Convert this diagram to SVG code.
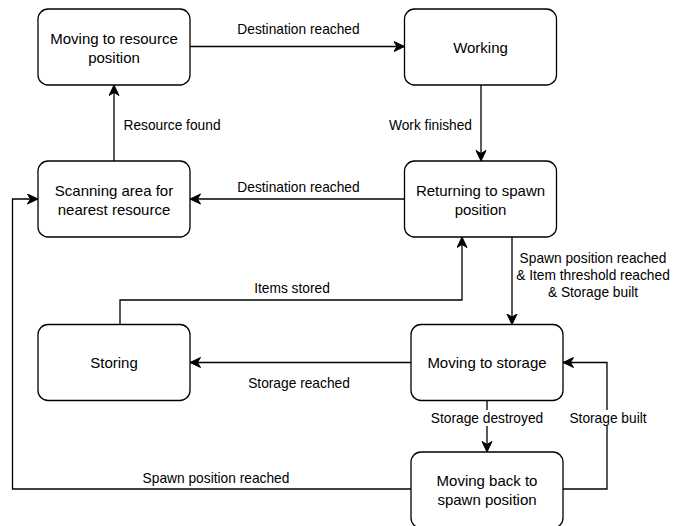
<svg xmlns="http://www.w3.org/2000/svg" width="673" height="526" viewBox="0 0 673 526">
  <style>
    .node rect { fill: #ffffff; stroke: #000000; stroke-width: 1.3; }
    .node text { font-family: "Liberation Sans", Arial, sans-serif; font-size: 15px; fill: #000000; text-anchor: middle; }
    .edge { fill: none; stroke: #000000; stroke-width: 1.3; }
    .arrow { marker-end: url(#head); }
    .label { font-family: "Liberation Sans", Arial, sans-serif; font-size: 13.75px; fill: #000000; text-anchor: middle; }
    .bg { fill: #ffffff; }
  </style>
  <defs>
    <marker id="head" markerUnits="userSpaceOnUse" markerWidth="13" markerHeight="12" refX="11" refY="5.5" orient="auto">
      <path d="M0.5,0.5 L11,5.5 L0.5,10.5 L3.5,5.5 Z" fill="#000000" stroke="#000000" stroke-width="1"/>
    </marker>
  </defs>
  <rect width="673" height="526" fill="#ffffff"/>

  <!-- transitions -->
  <g id="connectors">
    <!-- moving to resource -> working -->
    <path class="edge arrow" d="M190,46.5 L404.5,46.5"/>
    <text class="label" x="298.5" y="34">Destination reached</text>
    <!-- working -> returning -->
    <path class="edge arrow" d="M481,85 L481,161"/>
    <text class="label" x="430.5" y="130">Work finished</text>
    <!-- returning -> scanning -->
    <path class="edge arrow" d="M404.5,199 L190,199"/>
    <text class="label" x="298.5" y="192">Destination reached</text>
    <!-- scanning -> moving to resource -->
    <path class="edge arrow" d="M114,161 L114,85"/>
    <text class="label" x="172" y="130">Resource found</text>
    <!-- returning -> moving to storage -->
    <path class="edge arrow" d="M512,237 L512,324.5"/>
    <text class="label" x="593" y="263">Spawn position reached</text>
    <text class="label" x="593" y="280">&amp; Item threshold reached</text>
    <text class="label" x="593" y="297">&amp; Storage built</text>
    <!-- storing -> returning -->
    <path class="edge arrow" d="M120,324.5 L120,300 L462,300 L462,237"/>
    <text class="label" x="292" y="293">Items stored</text>
    <!-- moving to storage -> storing -->
    <path class="edge arrow" d="M411,362.5 L190,362.5"/>
    <text class="label" x="299" y="388">Storage reached</text>
    <!-- moving to storage -> moving back -->
    <path class="edge arrow" d="M487,400.5 L487,452"/>
    <rect class="bg" x="428" y="410" width="118" height="16"/>
    <text class="label" x="487" y="423">Storage destroyed</text>
    <!-- moving back -> moving to storage -->
    <path class="edge arrow" d="M563,489 L607,489 L607,362.5 L563,362.5"/>
    <rect class="bg" x="569" y="410" width="78" height="16"/>
    <text class="label" x="608" y="423">Storage built</text>
    <!-- moving back -> scanning -->
    <path class="edge arrow" d="M411,489 L12.5,489 L12.5,199 L38,199"/>
    <text class="label" x="216" y="483">Spawn position reached</text>
  </g>

  <g id="moving-to-resource" class="node">
    <rect x="38" y="9" width="152" height="76" rx="10"/>
    <text x="114" y="43.5">Moving to resource</text>
    <text x="114" y="62.5">position</text>
  </g>
  <g id="working" class="node">
    <rect x="404.5" y="9" width="152" height="76" rx="10"/>
    <text x="480.5" y="52.5">Working</text>
  </g>
  <g id="scanning" class="node">
    <rect x="38" y="161" width="152" height="76" rx="10"/>
    <text x="114" y="195.5">Scanning area for</text>
    <text x="114" y="214.5">nearest resource</text>
  </g>
  <g id="returning" class="node">
    <rect x="404.5" y="161" width="152" height="76" rx="10"/>
    <text x="480.5" y="195.5">Returning to spawn</text>
    <text x="480.5" y="214.5">position</text>
  </g>
  <g id="storing" class="node">
    <rect x="38" y="324.5" width="152" height="76" rx="10"/>
    <text x="114" y="368">Storing</text>
  </g>
  <g id="moving-to-storage" class="node">
    <rect x="411" y="324.5" width="152" height="76" rx="10"/>
    <text x="487" y="368">Moving to storage</text>
  </g>
  <g id="moving-back" class="node">
    <rect x="411" y="452" width="152" height="76" rx="10"/>
    <text x="487" y="486">Moving back to</text>
    <text x="487" y="505">spawn position</text>
  </g>
</svg>
